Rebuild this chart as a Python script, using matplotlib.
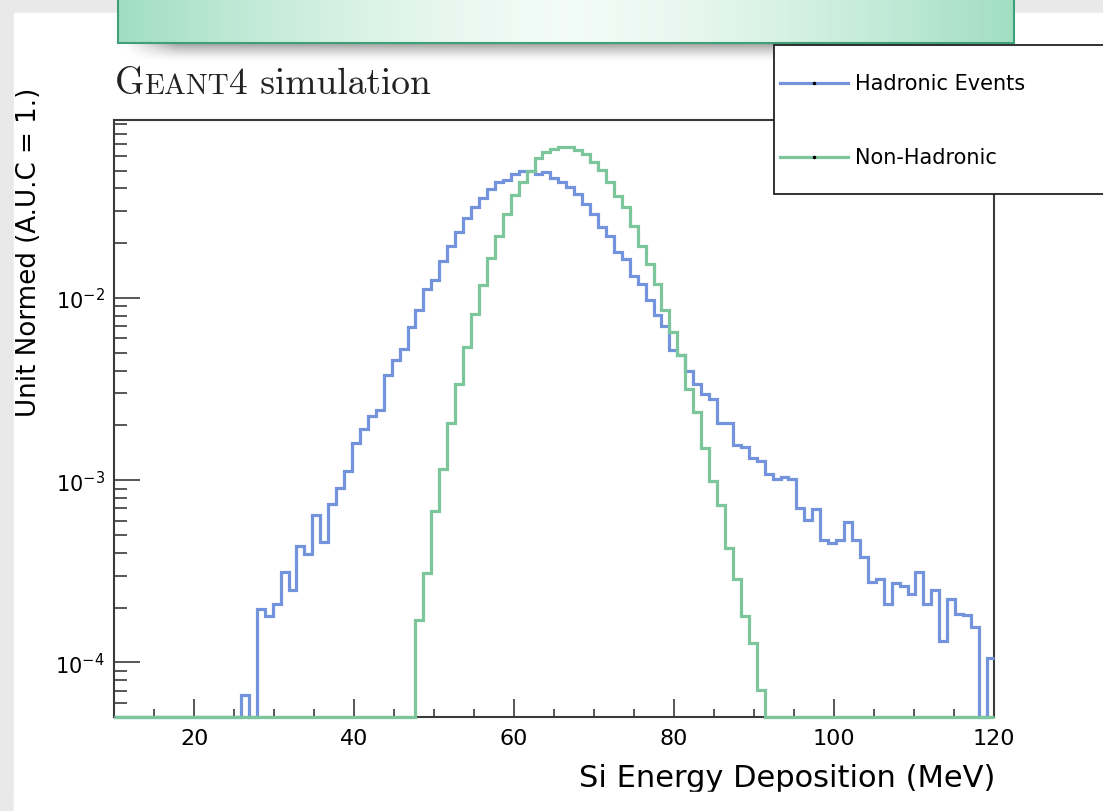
import numpy as np
import matplotlib
matplotlib.use("Agg")
import matplotlib.pyplot as plt
from matplotlib.patches import Rectangle
from matplotlib.lines import Line2D
from matplotlib.offsetbox import TextArea, HPacker, AnchoredOffsetbox
from matplotlib.ticker import FixedLocator, NullFormatter

# histogram binning (MeV)
first_edge = 9.94
bin_width = 0.993
n_bins = 111

# unit-normalised bin contents
hadronic_first_bin = 16
hadronic = [6.6e-5, 0, 1.96e-4, 1.79e-4, 2.09e-4, 3.15e-4, 2.50e-4, 4.35e-4,
            3.92e-4, 6.44e-4, 4.60e-4, 7.37e-4, 9.10e-4, 1.12e-3, 1.61e-3,
            1.90e-3, 2.26e-3, 2.42e-3, 3.77e-3, 4.59e-3, 5.28e-3, 6.94e-3,
            8.55e-3, 1.115e-2, 1.25e-2, 1.59e-2, 1.93e-2, 2.30e-2, 2.74e-2,
            3.15e-2, 3.54e-2, 3.97e-2, 4.32e-2, 4.47e-2, 4.80e-2, 5.00e-2,
            5.00e-2, 4.80e-2, 4.94e-2, 4.55e-2, 4.35e-2, 4.06e-2, 3.73e-2,
            3.29e-2, 2.90e-2, 2.45e-2, 2.20e-2, 1.79e-2, 1.64e-2, 1.33e-2,
            1.20e-2, 9.70e-3, 8.10e-3, 6.99e-3, 5.16e-3, 4.89e-3, 3.96e-3,
            3.39e-3, 2.99e-3, 2.81e-3, 2.07e-3, 2.06e-3, 1.57e-3, 1.53e-3,
            1.32e-3, 1.27e-3, 1.08e-3, 1.02e-3, 1.04e-3, 1.01e-3, 7.07e-4,
            6.05e-4, 6.95e-4, 4.70e-4, 4.51e-4, 4.70e-4, 5.87e-4, 4.70e-4,
            3.78e-4, 2.78e-4, 2.86e-4, 2.09e-4, 2.74e-4, 2.64e-4, 2.37e-4,
            3.15e-4, 2.09e-4, 2.50e-4, 1.31e-4, 2.23e-4, 1.84e-4, 1.83e-4,
            1.56e-4, 0, 1.06e-4]

nonhadronic_first_bin = 38
nonhadronic = [1.71e-4, 3.09e-4, 6.81e-4, 1.15e-3, 2.05e-3, 3.39e-3, 5.39e-3,
               8.20e-3, 1.18e-2, 1.66e-2, 2.20e-2, 2.90e-2, 3.68e-2, 4.32e-2,
               5.00e-2, 5.85e-2, 6.31e-2, 6.58e-2, 6.77e-2, 6.72e-2, 6.52e-2,
               6.18e-2, 5.60e-2, 5.07e-2, 4.32e-2, 3.65e-2, 3.15e-2, 2.50e-2,
               1.94e-2, 1.54e-2, 1.20e-2, 8.63e-3, 6.51e-3, 4.85e-3, 3.18e-3,
               2.37e-3, 1.51e-3, 9.89e-4, 7.30e-4, 4.23e-4, 2.87e-4, 1.81e-4,
               1.28e-4, 7.08e-5]

series_names = ['Hadronic Events', 'Non-Hadronic']
x_ticks = [20, 40, 60, 80, 100, 120]
y_ticks = [1e-4, 1e-3, 1e-2]
y_tick_labels = [r'$10^{-4}$', r'$10^{-3}$', r'$10^{-2}$']

blue = '#7394dc'
green = '#7cc69c'
frame = '#3a3a3a'
xmin, xmax = 10, 120
ymin, ymax = 5e-5, 0.0953

W, H = 1103, 812
fig = plt.figure(figsize=(W / 100, H / 100), dpi=100)

# slide background
bg = fig.add_axes([0, 0, 1, 1], zorder=-1)
bg.set_xlim(0, W); bg.set_ylim(H, 0); bg.axis('off')
bg.add_patch(Rectangle((0, 0), W, H, color='#e9e9e9'))
bg.add_patch(Rectangle((14, 14), W - 14, H - 14, color='white'))

# histograms
edges = np.clip(first_edge + bin_width * np.arange(n_bins + 1), xmin, xmax)
h_had = np.zeros(n_bins)
h_had[hadronic_first_bin:hadronic_first_bin + len(hadronic)] = hadronic
h_non = np.zeros(n_bins)
h_non[nonhadronic_first_bin:nonhadronic_first_bin + len(nonhadronic)] = nonhadronic

ax = fig.add_axes([114.4 / W, 1 - 718.3 / H, (993.5 - 114.4) / W, (718.3 - 120.7) / H], zorder=1)
ax.stairs(np.where(h_had > 0, h_had, ymin), edges, color=blue, lw=2.3,
          baseline=None, clip_on=False, zorder=3)
ax.stairs(np.where(h_non > 0, h_non, ymin), edges, color=green, lw=2.3,
          baseline=None, clip_on=False, zorder=4)

ax.set_yscale('log')
ax.set_xlim(xmin, xmax)
ax.set_ylim(ymin, ymax)
for s in ax.spines.values():
    s.set_color(frame)
    s.set_linewidth(1.5)

ax.xaxis.set_major_locator(FixedLocator(x_ticks))
ax.xaxis.set_minor_locator(FixedLocator(np.arange(15, 120, 5)))
ax.yaxis.set_major_locator(FixedLocator(y_ticks))
ax.set_yticklabels(y_tick_labels)
ax.yaxis.set_minor_locator(FixedLocator([m * 10.0 ** e for e in (-5, -4, -3, -2) for m in range(2, 10)]))
ax.yaxis.set_minor_formatter(NullFormatter())
ax.tick_params(axis='both', which='both', direction='in', color=frame, width=1.2,
               top=False, right=False)
ax.tick_params(axis='x', which='major', length=12.7, pad=8, labelsize=16)
ax.tick_params(axis='x', which='minor', length=6)
ax.tick_params(axis='y', which='major', length=19, pad=7, labelsize=15)
ax.tick_params(axis='y', which='minor', length=9.6)

# axis titles
fig.text(995 / W, 1 - 787 / H, 'Si Energy Deposition (MeV)', fontsize=22,
         ha='right', va='baseline', color='black')
fig.text(29 / W, 1 - 88 / H, 'Unit Normed (A.U.C = 1.)', fontsize=18.8,
         rotation=90, ha='center', va='top', color='black')

# "GEANT4 simulation" label in small caps
big = dict(family='cmr10', size=27, color='#222222')
small = dict(family='cmr10', size=21, color='#222222')
label = HPacker(children=[TextArea('G', textprops=big),
                          TextArea('EANT', textprops=small),
                          TextArea('4 simulation', textprops=big)],
                align='baseline', pad=0, sep=0)
fig.add_artist(AnchoredOffsetbox(loc='lower left', child=label, pad=0, borderpad=0,
                                 frameon=False, bbox_to_anchor=(115 / W, 1 - 101 / H),
                                 bbox_transform=fig.transFigure))

# overlay: banner, legend box, bottom cut
ov = fig.add_axes([0, 0, 1, 1], zorder=5)
ov.set_xlim(0, W); ov.set_ylim(H, 0); ov.axis('off')
ov.patch.set_alpha(0)

bx0, bx1, by1 = 118, 1014, 44
v = np.linspace(0, 1, 40)[:, None]
u = np.linspace(0, 1, 200)[None, :]
shadow = 0.38 * (1 - v) ** 1.6 * np.clip(np.minimum(u, 1 - u) / 0.06, 0, 1)
ov.imshow(np.dstack([np.zeros_like(shadow)] * 3 + [shadow]),
          extent=(bx0 + 5, bx1 - 5, by1 + 20, by1), aspect='auto',
          interpolation='bilinear', zorder=1)
t = np.abs(np.linspace(-1, 1, 200))
c_mid = np.array([0.95, 0.985, 0.97])
c_edge = np.array([0.63, 0.87, 0.76])
grad = c_mid + (c_edge - c_mid) * (t ** 1.5)[:, None]
ov.imshow(grad[None, :, :], extent=(bx0, bx1, by1, -2), aspect='auto', zorder=2)
ov.add_patch(Rectangle((bx0, -2), bx1 - bx0, by1 + 2, fill=False, ec='#3f9f78', lw=1.5, zorder=3))

ov.add_patch(Rectangle((774, 46), 340, 149, fc='white', ec='#222222', lw=1.3, zorder=4))
for name, col, yy in zip(series_names, [blue, green], [84, 158]):
    ov.add_line(Line2D([780, 848], [yy, yy], color=col, lw=2.3, zorder=5))
    ov.add_line(Line2D([814], [yy], marker='o', ms=1.5, color='black', zorder=6))
    ov.text(855, yy, name, fontsize=15, va='center', ha='left', zorder=6)

ov.add_patch(Rectangle((14, 793), W, 30, color='white', zorder=2))

fig.savefig('out.png', dpi=100)
